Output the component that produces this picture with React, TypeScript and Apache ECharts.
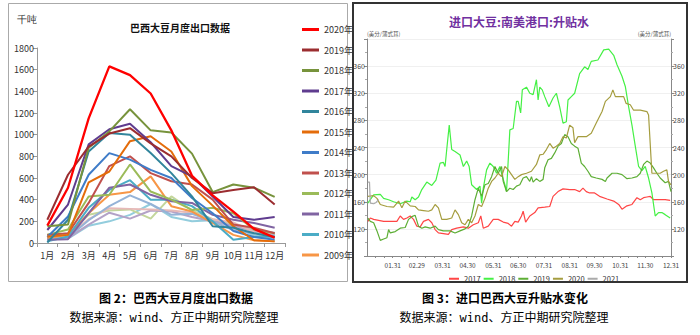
import React, { useEffect, useRef } from 'react';
import * as echarts from 'echarts';

// ---------- Left chart data (千吨) ----------
const months = ['1月', '2月', '3月', '4月', '5月', '6月', '7月', '8月', '9月', '10月', '11月', '12月'];
const yLeftTicks = { min: 0, max: 1800, interval: 200 };

const exp2020 = [160, 510, 1150, 1630, 1550, 1380, 1040, 620, 440, 290, 130, 50];
const exp2019 = [215, 630, 890, 1010, 1060, 920, 800, 600, 460, 490, 515, 355];
const exp2018 = [155, 170, 880, 1030, 1235, 1040, 1020, 825, 470, 540, 510, 425];
const exp2017 = [120, 355, 910, 1050, 1100, 930, 710, 615, 430, 240, 215, 240];
const exp2016 = [5, 215, 845, 1015, 1000, 830, 645, 430, 155, 140, 90, 55];
const exp2015 = [60, 75, 560, 660, 940, 985, 845, 525, 345, 155, 25, 15];
const exp2014 = [55, 245, 630, 830, 770, 675, 600, 415, 275, 110, 55, 30];
const exp2013 = [75, 90, 370, 710, 800, 645, 570, 540, 400, 170, 140, 90];
const exp2012 = [75, 125, 430, 445, 725, 475, 400, 305, 325, 275, 125, 90];
const exp2011 = [30, 35, 275, 510, 540, 445, 385, 370, 260, 215, 185, 140];
const exp2010 = [15, 60, 325, 490, 580, 400, 400, 340, 200, 30, 55, 60];
const exp2009 = [45, 75, 275, 445, 470, 615, 340, 290, 185, 75, 25, 15];
// unlabeled older years (pale lines)
const exp2008 = [40, 50, 210, 340, 440, 360, 260, 270, 200, 120, 90, 70];
const exp2007 = [60, 60, 220, 320, 315, 310, 300, 280, 220, 190, 100, 80];
const exp2006 = [50, 45, 170, 280, 225, 300, 290, 240, 200, 160, 110, 95];
const exp2005 = [80, 80, 260, 300, 310, 225, 430, 300, 220, 175, 120, 80];
const exp2004 = [40, 40, 160, 200, 260, 360, 240, 200, 210, 150, 70, 50];

const leftSeriesDefs: [string, number[], string][] = [
  ['2004年', exp2004, '#93CDDD'],
  ['2005年', exp2005, '#C3D69B'],
  ['2006年', exp2006, '#B3A2C7'],
  ['2007年', exp2007, '#E6B9B8'],
  ['2008年', exp2008, '#95B3D7'],
  ['2009年', exp2009, '#F79646'],
  ['2010年', exp2010, '#4BACC6'],
  ['2011年', exp2011, '#8064A2'],
  ['2012年', exp2012, '#9BBB59'],
  ['2013年', exp2013, '#C0504D'],
  ['2014年', exp2014, '#3F7CC8'],
  ['2015年', exp2015, '#E46C0A'],
  ['2016年', exp2016, '#31859C'],
  ['2017年', exp2017, '#5F3C8F'],
  ['2018年', exp2018, '#77933C'],
  ['2019年', exp2019, '#9B2D30'],
  ['2020年', exp2020, '#FF0000'],
];
const leftLegend = ['2020年', '2019年', '2018年', '2017年', '2016年', '2015年', '2014年', '2013年', '2012年', '2011年', '2010年', '2009年'];

// ---------- Right chart data (美分/蒲式耳), x = day of year ----------
const monthEndDays = [31, 60, 91, 121, 152, 182, 213, 244, 274, 305, 335, 366];
const dateLabels = ['01.31', '02.29', '03.31', '04.30', '05.31', '06.30', '07.31', '08.31', '09.30', '10.31', '11.30', '12.31'];
const yRightTicks = [120, 160, 200, 240, 280, 320, 360];

const days2017 = [1, 4, 8, 20, 36, 40, 44, 48, 52, 56, 60, 64, 68, 74, 78, 82, 86, 92, 98, 102, 108, 116, 122, 128, 134, 137, 140, 146, 152, 158, 164, 170, 174, 178, 182, 186, 188, 191, 196, 202, 206, 214, 220, 224, 230, 236, 244, 250, 256, 260, 264, 268, 274, 280, 289, 297, 303, 307, 313, 319, 325, 329, 333, 337, 341, 345, 353, 359, 365];
const vals2017 = [131, 136, 134, 131, 131, 139, 134, 136, 139, 134, 124, 123, 131, 134, 129, 119, 114, 113, 112, 119, 121, 123, 121, 126, 129, 139, 121, 124, 134, 134, 130, 128, 124, 131, 130, 139, 146, 130, 139, 144, 151, 152, 153, 168, 175, 179, 178, 178, 175, 180, 175, 173, 173, 168, 164, 161, 156, 149, 154, 156, 166, 163, 166, 167, 168, 163, 163, 163, 162];

const days2018 = [1, 8, 16, 20, 26, 32, 40, 48, 52, 54, 58, 62, 66, 72, 78, 83, 88, 92, 94, 96, 99, 102, 106, 112, 116, 120, 123, 126, 132, 136, 138, 140, 144, 148, 152, 156, 160, 163, 166, 168, 172, 176, 180, 182, 185, 187, 192, 196, 200, 204, 206, 208, 211, 214, 219, 224, 228, 232, 236, 240, 242, 246, 250, 256, 262, 266, 270, 278, 285, 291, 297, 301, 307, 311, 315, 319, 323, 327, 331, 335, 339, 343, 347, 351, 355, 359, 365];
const vals2018 = [158, 170, 171, 165, 163, 160, 157, 161, 160, 167, 163, 167, 178, 189, 184, 192, 217, 218, 212, 237, 273, 237, 234, 229, 212, 220, 212, 185, 178, 183, 158, 180, 207, 217, 212, 202, 212, 197, 185, 175, 266, 268, 308, 308, 291, 325, 329, 320, 318, 340, 310, 329, 325, 315, 300, 313, 320, 300, 276, 278, 310, 315, 320, 349, 359, 355, 367, 369, 384, 385, 376, 362, 345, 330, 300, 273, 242, 212, 206, 212, 195, 173, 139, 144, 144, 141, 136];

const days2019 = [1, 4, 8, 12, 16, 20, 24, 26, 28, 34, 40, 46, 50, 54, 58, 62, 66, 70, 76, 82, 86, 92, 100, 106, 112, 118, 122, 126, 130, 134, 138, 142, 146, 150, 154, 158, 162, 164, 168, 172, 176, 180, 184, 188, 192, 196, 198, 200, 204, 208, 212, 214, 218, 222, 226, 230, 234, 238, 242, 246, 250, 254, 258, 262, 266, 270, 276, 283, 287, 289, 295, 301, 307, 313, 319, 325, 329, 333, 337, 341, 345, 349, 353, 359, 363, 366];
const vals2019 = [136, 131, 129, 117, 103, 105, 107, 119, 114, 116, 121, 122, 134, 138, 140, 124, 121, 123, 121, 124, 119, 117, 117, 114, 117, 120, 124, 139, 163, 180, 168, 185, 187, 197, 212, 202, 212, 190, 175, 180, 178, 183, 185, 195, 197, 190, 197, 189, 194, 190, 193, 210, 222, 224, 232, 242, 246, 259, 256, 246, 242, 239, 217, 212, 205, 197, 195, 193, 190, 195, 202, 202, 200, 194, 195, 197, 202, 215, 220, 217, 210, 202, 195, 188, 190, 175];

const days2020 = [1, 8, 12, 16, 24, 32, 38, 42, 46, 52, 58, 62, 68, 74, 78, 82, 86, 90, 96, 102, 106, 110, 114, 118, 122, 126, 130, 134, 138, 142, 146, 150, 154, 158, 162, 166, 170, 174, 178, 182, 186, 192, 198, 204, 208, 212, 216, 220, 224, 228, 232, 236, 240, 244, 248, 250, 254, 258, 264, 270, 276, 283, 287, 293, 296, 299, 305, 309, 312, 317, 321, 329, 337, 339, 343, 347, 353, 357, 361, 363, 366];
const vals2020 = [168, 169, 165, 156, 153, 152, 161, 151, 161, 154, 153, 148, 147, 146, 148, 156, 151, 134, 134, 136, 148, 141, 129, 126, 134, 129, 139, 156, 153, 165, 180, 190, 195, 202, 197, 212, 207, 200, 193, 197, 200, 202, 205, 215, 229, 230, 237, 246, 239, 242, 246, 256, 254, 273, 269, 247, 256, 256, 256, 261, 276, 293, 308, 315, 325, 315, 315, 315, 305, 303, 295, 295, 293, 288, 202, 202, 202, 205, 207, 190, 185];

const days2021 = [1, 3, 4, 8, 11, 14];
const vals2021 = [189, 189, 158, 157, 159, 163];

const rightSeriesDefs: [string, number[], number[], string][] = [
  ['2017', days2017, vals2017, '#FF4545'],
  ['2018', days2018, vals2018, '#45F045'],
  ['2019', days2019, vals2019, '#5DAE35'],
  ['2020', days2020, vals2020, '#A59D3F'],
  ['2021', days2021, vals2021, '#AAAAAA'],
];

const NARROW = '"Liberation Sans Narrow", "Noto Sans CJK SC", sans-serif';
const CJK = '"Noto Sans CJK SC", sans-serif';

function buildRightTicks(): number[] {
  const out: number[] = [];
  let prev = 0;
  for (const e of monthEndDays) {
    const len = e - prev;
    out.push(prev + len / 3, prev + (2 * len) / 3, e);
    prev = e;
  }
  return out;
}

export default function App() {
  const ref = useRef<HTMLDivElement>(null);
  useEffect(() => {
    const chart = echarts.init(ref.current!, null, { renderer: 'svg' });
    const leftSeries = leftSeriesDefs.map(([name, data, color]) => ({
      name,
      type: 'line',
      xAxisIndex: 0,
      yAxisIndex: 0,
      data,
      color,
      symbol: 'none',
      showSymbol: false,
      lineStyle: { width: name === '2020年' ? 2.3 : 2, color },
    }));
    const rightSeries = rightSeriesDefs.map(([name, d, v, color]) => ({
      name,
      type: 'line',
      xAxisIndex: 1,
      yAxisIndex: 1,
      data: d.map((x, i) => [x, v[i]]),
      color,
      symbol: 'none',
      showSymbol: false,
      lineStyle: { width: 1.2, color },
    }));
    const rightTicks = buildRightTicks();
    const option: any = {
      animation: false,
      backgroundColor: '#fff',
      grid: [
        { left: 37, right: 415, top: 48, bottom: 92 },
        { left: 367, right: 29, top: 39, bottom: 79 },
      ],
      xAxis: [
        {
          gridIndex: 0,
          type: 'category',
          data: months,
          boundaryGap: true,
          axisLine: { lineStyle: { color: '#999' } },
          axisTick: { show: true, length: 4, lineStyle: { color: '#999' } },
          axisLabel: { fontSize: 9, color: '#333', margin: 8, fontFamily: NARROW, interval: 0 },
        },
        {
          gridIndex: 1,
          type: 'value',
          min: 0,
          max: 366,
          axisLine: { lineStyle: { color: '#888' } },
          axisTick: { show: true, length: 2, customValues: rightTicks, lineStyle: { color: '#888' } },
          axisLabel: {
            fontSize: 6.5,
            color: '#444',
            margin: 6,
            fontFamily: NARROW,
            customValues: monthEndDays,
            formatter: (v: number) => {
              const i = monthEndDays.indexOf(Math.round(v));
              return i >= 0 ? dateLabels[i] : '';
            },
          },
          splitLine: { show: false },
        },
      ],
      yAxis: [
        {
          gridIndex: 0,
          type: 'value',
          min: yLeftTicks.min,
          max: yLeftTicks.max,
          interval: yLeftTicks.interval,
          axisLine: { show: true, lineStyle: { color: '#999' } },
          axisTick: { show: true, length: 4, lineStyle: { color: '#999' } },
          axisLabel: { fontSize: 9, color: '#333', margin: 3, fontFamily: NARROW, formatter: (v: number) => String(v) },
          splitLine: { show: false },
        },
        {
          gridIndex: 1,
          type: 'value',
          min: 80,
          max: 400,
          interval: 40,
          name: '(美分/蒲式耳)',
          nameLocation: 'end',
          nameGap: 2,
          nameTextStyle: { fontSize: 5.5, color: '#555', align: 'left', fontFamily: CJK },
          axisLine: { show: true, lineStyle: { color: '#888' } },
          axisTick: { show: true, length: 3, lineStyle: { color: '#888' } },
          minorTick: { show: true, splitNumber: 2, length: 2, lineStyle: { color: '#aaa' } },
          axisLabel: {
            fontSize: 7,
            color: '#444',
            margin: 2,
            fontFamily: NARROW,
            showMinLabel: false,
            showMaxLabel: false,
            formatter: (v: number) => (yRightTicks.indexOf(v) >= 0 ? String(v) : ''),
          },
          splitLine: { show: true, lineStyle: { color: '#f0f0f0', width: 1 } },
        },
        {
          gridIndex: 1,
          type: 'value',
          position: 'right',
          min: 80,
          max: 400,
          interval: 40,
          name: '(美分/蒲式耳)',
          nameLocation: 'end',
          nameGap: 2,
          nameTextStyle: { fontSize: 5.5, color: '#555', align: 'right', fontFamily: CJK },
          axisLine: { show: true, lineStyle: { color: '#888' } },
          axisTick: { show: true, length: 3, lineStyle: { color: '#888' } },
          minorTick: { show: true, splitNumber: 2, length: 2, lineStyle: { color: '#aaa' } },
          axisLabel: {
            fontSize: 7,
            color: '#444',
            margin: 2,
            fontFamily: NARROW,
            formatter: (v: number) => (yRightTicks.indexOf(v) >= 0 ? String(v) : ''),
          },
          splitLine: { show: false },
        },
      ],
      legend: [
        {
          data: leftLegend,
          orient: 'vertical',
          left: 297,
          top: 18,
          icon: 'rect',
          itemWidth: 17,
          itemHeight: 3,
          itemGap: 7.5,
          textStyle: { fontSize: 9, color: '#333', fontFamily: NARROW, lineHeight: 13 },
        },
        {
          data: rightSeriesDefs.map((d) => d[0]),
          orient: 'horizontal',
          left: 444,
          top: 270,
          icon: 'rect',
          itemWidth: 10,
          itemHeight: 2,
          itemGap: 3,
          textStyle: { fontSize: 7.5, color: '#333', fontFamily: NARROW },
        },
      ],
      graphic: [
        { type: 'rect', shape: { x: 8.5, y: 3.5, width: 339, height: 278 }, style: { fill: 'none', stroke: '#aaa', lineWidth: 1 }, silent: true },
        { type: 'rect', shape: { x: 353, y: 3, width: 334, height: 279 }, style: { fill: 'none', stroke: '#333', lineWidth: 2 }, silent: true },
        { type: 'text', x: 17, y: 14, style: { text: '千吨', fontSize: 10, fill: '#333', font: '10px ' + CJK } },
        { type: 'text', x: 180, y: 27, style: { text: '巴西大豆月度出口数据', fill: '#111', font: 'bold 10px ' + CJK, textAlign: 'center', textVerticalAlign: 'middle' } },
        { type: 'text', x: 519, y: 21, style: { text: '进口大豆:南美港口:升贴水', fill: '#7030A0', font: 'bold 12px ' + CJK, textAlign: 'center', textVerticalAlign: 'middle' } },
        { type: 'text', x: 176, y: 297, style: { text: '图 2：巴西大豆月度出口数据', fill: '#000', font: 'bold 12px ' + CJK, textAlign: 'center', textVerticalAlign: 'middle' } },
        { type: 'text', x: 174, y: 318, style: { text: '数据来源：wind、方正中期研究院整理', fill: '#000', font: '12px "DejaVu Sans Mono", ' + CJK, textAlign: 'center', textVerticalAlign: 'middle' } },
        { type: 'text', x: 505, y: 297, style: { text: '图 3：进口巴西大豆升贴水变化', fill: '#000', font: 'bold 12px ' + CJK, textAlign: 'center', textVerticalAlign: 'middle' } },
        { type: 'text', x: 504, y: 318, style: { text: '数据来源：wind、方正中期研究院整理', fill: '#000', font: '12px "DejaVu Sans Mono", ' + CJK, textAlign: 'center', textVerticalAlign: 'middle' } },
      ],
      series: [...leftSeries, ...rightSeries],
    };
    chart.setOption(option);
    return () => chart.dispose();
  }, []);
  return (
    <div
      ref={ref}
      style={{ position: 'fixed', left: 0, top: 0, width: 700, height: 335, background: '#fff' }}
    />
  );
}
